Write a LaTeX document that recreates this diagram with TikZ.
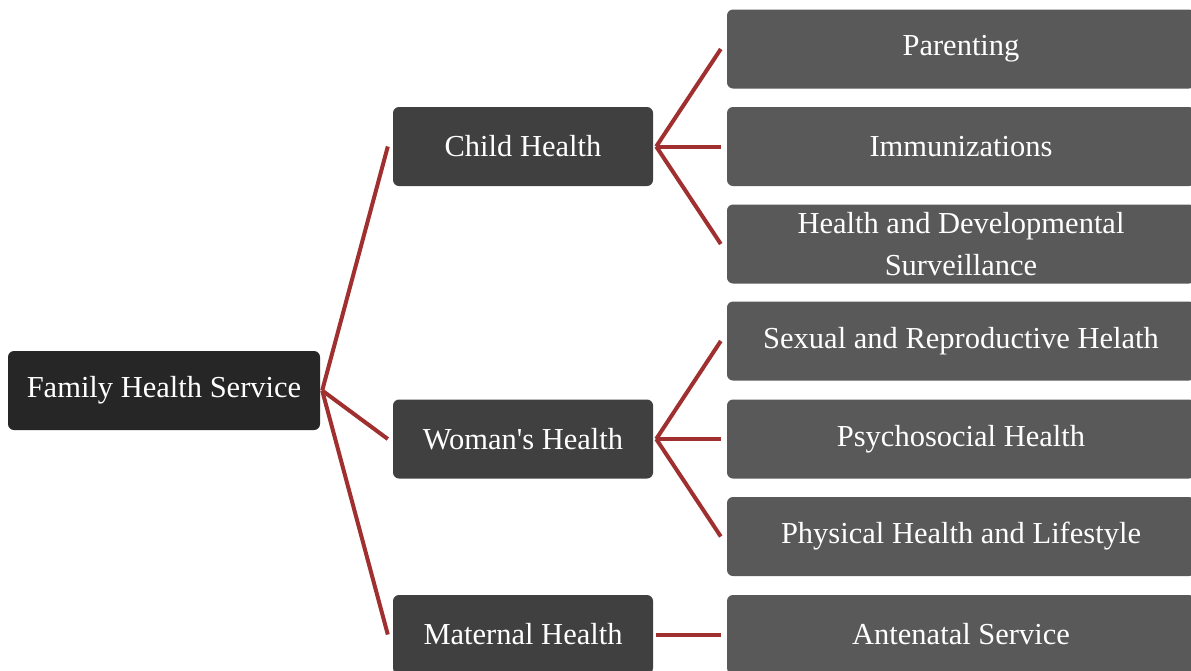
\documentclass[tikz,border=0pt]{standalone}
\usepackage{fontspec}
\setmainfont{Liberation Serif}
\usetikzlibrary{calc}
\definecolor{rootc}{HTML}{262626}
\definecolor{midc}{HTML}{404040}
\definecolor{leafc}{HTML}{595959}
\definecolor{linkc}{HTML}{A0302F}
\tikzset{
  box/.style={rectangle, rounded corners=6pt, text=white, align=center, inner sep=0pt,
    minimum height=79pt, font=\fontsize{30.5}{42}\selectfont},
  rootbox/.style={box, fill=rootc, minimum width=312pt},
  midbox/.style={box, fill=midc, minimum width=260pt},
  leafbox/.style={box, fill=leafc, minimum width=468pt},
  link/.style={draw=linkc, line width=4pt}
}
\begin{document}
\begin{tikzpicture}[x=1pt,y=-1pt]
\useasboundingbox (0,0) rectangle (1191,670);
\clip (0,0) rectangle (1191,670);
\fill[white] (0,0) rectangle (1191,670);
\node[rootbox] (root) at (164,390.5) {Family Health Service};
\node[midbox] (child) at (523,146.5) {Child Health};
\node[midbox] (woman) at (523,439) {Woman\textquotesingle s Health};
\node[midbox] (mat) at (523,634.5) {Maternal Health};
\node[leafbox] (l1) at (961,49) {Parenting};
\node[leafbox] (l2) at (961,146.5) {Immunizations};
\node[leafbox] (l3) at (961,244) {Health and Developmental\\Surveillance};
\node[leafbox] (l4) at (961,341) {Sexual and Reproductive Helath};
\node[leafbox] (l5) at (961,439) {Psychosocial Health};
\node[leafbox] (l6) at (961,536.5) {Physical Health and Lifestyle};
\node[leafbox] (l7) at (961,634.5) {Antenatal Service};
\coordinate (rs) at ($(root.east)+(2,0)$);
\foreach \n in {child,woman,mat}
  \draw[link] (rs) -- ($(\n.west)+(-5,0)$);
\coordinate (cs) at ($(child.east)+(3,0)$);
\foreach \n in {l1,l2,l3}
  \draw[link] (cs) -- ($(\n.west)+(-6,0)$);
\coordinate (ws) at ($(woman.east)+(3,0)$);
\foreach \n in {l4,l5,l6}
  \draw[link] (ws) -- ($(\n.west)+(-6,0)$);
\draw[link] ($(mat.east)+(3,0)$) -- ($(l7.west)+(-6,0)$);
\end{tikzpicture}
\end{document}
